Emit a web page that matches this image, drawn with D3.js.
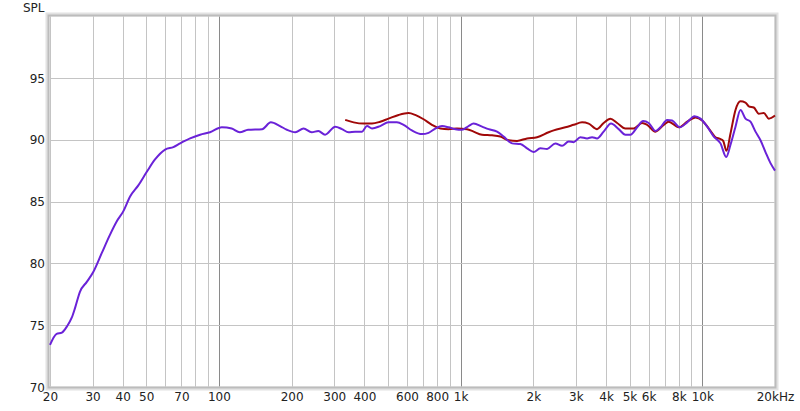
<!DOCTYPE html>
<html><head><meta charset="utf-8">
<script src="https://cdn.jsdelivr.net/npm/d3@7"></script>
<style>body{margin:0;background:#fff}svg{display:block}text{font-family:"DejaVu Sans",sans-serif;font-size:12px;fill:#222}</style>
</head><body>
<svg id="c" width="800" height="411"></svg>
<script>
const purpleFreq = [20,21.3,22.4,23.5,24.6,25.4,26.6,28.4,30.2,32.7,35.4,37.8,40.2,42.9,46.4,50.3,54.4,59.9,64.8,69.1,76,83.6,91.9,102.8,113,122,132,151,164,179,191,207,224,242,258,275,303,323,344,366,391,410,430,465,503,545,581,629,692,737,786,838,892,951,1013,1079,1132,1227,1306,1415,1507,1633,1767,1884,2006,2138,2280,2467,2630,2800,2938,3131,3338,3500,3670,3908,4194,4510,4809,5044,5377,5693,6004,6401,6714,7156,7506,8071,8660,9283,9830,10480,11160,11898,12563,13089,13727,14394,15098,15834,16607,17418,18267,19157,20000];
const purpleSPL = [73.4,74.3,74.4,74.9,75.6,76.4,77.7,78.5,79.3,80.8,82.3,83.4,84.2,85.4,86.3,87.4,88.4,89.2,89.4,89.7,90.1,90.4,90.6,91.0,90.9,90.6,90.8,90.85,91.4,91.1,90.8,90.6,90.9,90.6,90.7,90.4,91.05,90.85,90.6,90.65,90.65,91.1,90.9,91.1,91.4,91.4,91.2,90.75,90.45,90.55,90.9,91.1,91.0,90.85,90.8,91.1,91.3,91.05,90.85,90.65,90.25,89.7,89.65,89.3,89.0,89.3,89.25,89.7,89.5,89.85,89.8,90.2,90.1,90.2,90.1,90.65,91.3,90.85,90.4,90.4,91.0,91.5,91.35,90.7,91.0,91.6,91.55,91.0,91.4,91.9,91.7,91.05,90.25,89.7,88.6,89.6,91.05,92.4,91.7,91.45,90.65,89.95,89.0,88.1,87.5];
const redFreq = [333,361,397,430,465,503,554,609,649,703,761,824,892,966,1063,1132,1227,1349,1460,1581,1712,1884,2072,2314,2428,2714,2938,3182,3388,3670,3908,4168,4444,4809,5204,5638,5915,6401,6928,7266,7994,8660,9373,9992,10641,11342,11898,12208,12598,13089,13727,14394,15098,15578,16340,17138,17972,18848,20000];
const redSPL = [91.6,91.4,91.3,91.3,91.45,91.7,92.0,92.15,92.0,91.65,91.2,90.9,90.85,90.9,90.85,90.65,90.4,90.35,90.25,89.95,89.9,90.1,90.2,90.6,90.75,91.0,91.2,91.4,91.3,90.85,91.35,91.7,91.35,90.9,90.9,91.35,91.2,90.65,91.2,91.45,91.0,91.45,91.8,91.55,90.9,90.2,90.05,89.9,89.1,90.5,92.4,93.1,93.0,92.7,92.6,92.1,92.15,91.7,91.95];
const xGrid = [20,30,40,50,60,70,80,90,100,200,300,400,500,600,700,800,900,1000,2000,3000,4000,5000,6000,7000,8000,9000,10000,20000];
const xMajor = [100,1000,10000];
const xTickVals = [20,30,40,50,70,100,200,300,400,600,800,1000,2000,3000,4000,5000,6000,8000,10000,20000];
const xTickLabels = ["20","30","40","50","70","100","200","300","400","600","800","1k","2k","3k","4k","5k","6k","8k","10k","20kHz"];
const yTicks = [70,75,80,85,90,95];

const svg = d3.select("#c");
const L=50,R=775,T=16,B=387;
const x = d3.scaleLog().domain([20,20000]).range([L,R]);
const y = d3.scaleLinear().domain([70,100]).range([B,T]);

const g = svg.append("g");
g.selectAll(".vg").data(xGrid).enter().append("line")
  .attr("x1",d=>Math.round(x(d))+0.5).attr("x2",d=>Math.round(x(d))+0.5)
  .attr("y1",T).attr("y2",B)
  .attr("stroke",d=>xMajor.includes(d)?"#8a8a8a":"#c4c4c4").attr("stroke-width",1);
g.selectAll(".hg").data(yTicks.filter(d=>d>70)).enter().append("line")
  .attr("x1",L).attr("x2",R)
  .attr("y1",d=>Math.round(y(d))+0.5).attr("y2",d=>Math.round(y(d))+0.5)
  .attr("stroke","#c4c4c4").attr("stroke-width",1);

// frame
svg.append("rect").attr("x",47.5).attr("y",14.5).attr("width",729).attr("height",374)
  .attr("fill","none").attr("stroke","#e2e2e2").attr("stroke-width",4);
svg.append("rect").attr("x",48.5).attr("y",15.5).attr("width",727).attr("height",372)
  .attr("fill","none").attr("stroke","#bcbcbc").attr("stroke-width",2);

const line = d3.line().x(d=>x(d[0])).y(d=>y(d[1])).curve(d3.curveMonotoneX);
svg.append("path").datum(d3.zip(redFreq,redSPL)).attr("d",line)
  .attr("fill","none").attr("stroke","#a00808").attr("stroke-width",2);
svg.append("path").datum(d3.zip(purpleFreq,purpleSPL)).attr("d",line)
  .attr("fill","none").attr("stroke","#6a22d8").attr("stroke-width",2);

// axes labels
const yAxis = d3.axisLeft(y).tickValues(yTicks).tickSize(0).tickPadding(0);
svg.append("g").attr("transform","translate(45,0)").call(yAxis)
  .call(s=>s.select(".domain").remove())
  .selectAll("text").attr("fill","#222").style("font-size","12px").attr("font-family","DejaVu Sans").attr("dy","0.35em");
const xAxis = d3.axisBottom(x).tickValues(xTickVals).tickFormat((d,i)=>xTickLabels[i]).tickSize(0).tickPadding(0);
svg.append("g").attr("transform","translate(0,392)").call(xAxis)
  .call(s=>s.select(".domain").remove())
  .selectAll("text").attr("fill","#222").style("font-size","12px").attr("font-family","DejaVu Sans");
svg.append("text").attr("x",23).attr("y",12).text("SPL");
</script>
</body></html>
